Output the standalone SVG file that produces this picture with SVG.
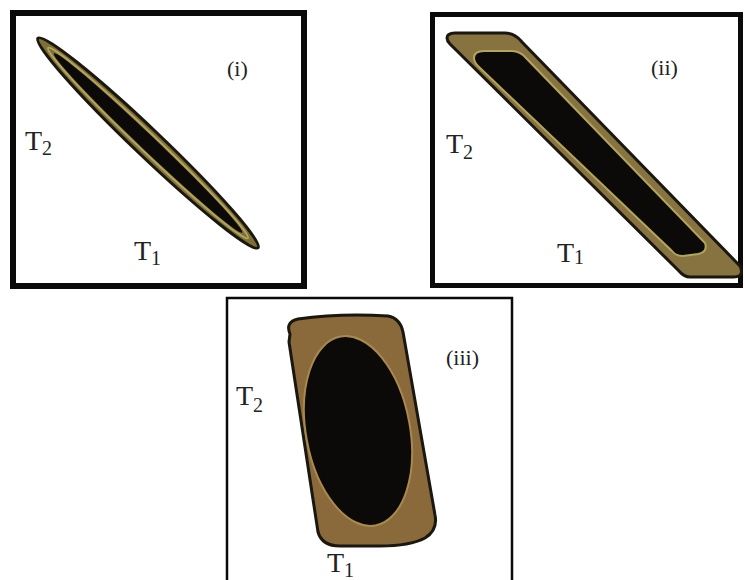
<svg xmlns="http://www.w3.org/2000/svg" width="745" height="580" viewBox="0 0 745 580">
<style>
.lbl{font-family:"Liberation Serif","Times New Roman",serif;fill:#222;}
.big{font-size:28px;}
.sub{font-size:20px;}
.num{font-size:22px;}
.frame{fill:none;stroke:#0a0a0a;}
</style>
<rect width="745" height="580" fill="#ffffff"/>

<g id="panel-i">
<rect class="frame" x="13" y="13" width="291" height="273" stroke-width="6"/>
<g transform="translate(148,143) rotate(43.6)">
<ellipse cx="0" cy="0" rx="152" ry="13.5" fill="#7d6f35" stroke="#1a1610" stroke-width="3"/>
<ellipse cx="0" cy="0" rx="138" ry="9" fill="none" stroke="#b3a45e" stroke-width="2"/>
<ellipse cx="0" cy="0" rx="130" ry="7.5" fill="#0c0a08"/>
</g>
<text class="lbl num" x="227" y="76">(i)</text>
<text class="lbl big" x="25" y="150">T<tspan class="sub" dy="5">2</tspan></text>
<text class="lbl big" x="134" y="260">T<tspan class="sub" dy="5">1</tspan></text>
</g>

<g id="panel-ii">
<rect class="frame" x="432.5" y="14.5" width="308" height="271" stroke-width="5"/>
<path d="M447,38 Q447,33 455,33 L505,33 Q515,33 522,42 L740,266 Q745,277 733,277 L690,277 Q684,277 679,271 L450,44 Q447,41 447,38 Z" fill="#86733f" stroke="#1a1610" stroke-width="3"/>
<path d="M474,58 Q474,51 484,51 L512,51 Q520,51 526,58 L705,243 Q708,252 698,254 L683,256 Q676,256 672,251 L478,66 Q474,62 474,58 Z" fill="#0c0a08" stroke="#b3a45e" stroke-width="2"/>
<text class="lbl num" x="651" y="75">(ii)</text>
<text class="lbl big" x="446" y="153">T<tspan class="sub" dy="6">2</tspan></text>
<text class="lbl big" x="557" y="262">T<tspan class="sub" dy="2">1</tspan></text>
</g>

<g id="panel-iii">
<path class="frame" d="M227,582 L227,298 L512,298 L512,582" stroke-width="2.5"/>
<path d="M290,334 Q285,322 298,319 Q340,313 388,316 Q400,318 403,332 L435,515 Q438,530 425,538 Q410,546 380,546 L340,546 Q322,546 318,532 L289,342 Z" fill="#8a6a3a" stroke="#1a1610" stroke-width="3"/>
<ellipse cx="358" cy="431" rx="52" ry="96" transform="rotate(-10.5 358 431)" fill="#0c0a08" stroke="#a8894f" stroke-width="2"/>
<text class="lbl num" x="446" y="365">(iii)</text>
<text class="lbl big" x="236" y="405">T<tspan class="sub" dy="7">2</tspan></text>
<text class="lbl big" x="327" y="572">T<tspan class="sub" dy="5">1</tspan></text>
</g>
</svg>
